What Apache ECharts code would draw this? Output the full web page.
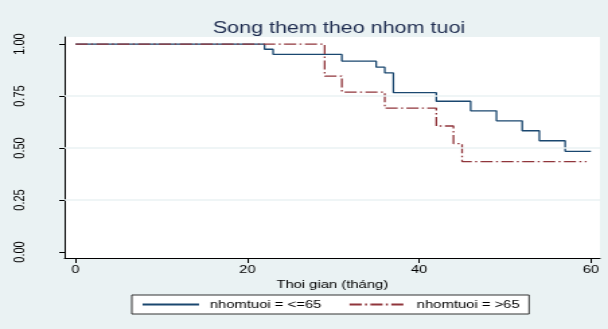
<!DOCTYPE html>
<html>
<head>
<meta charset="utf-8">
<script src="https://cdn.jsdelivr.net/npm/echarts@6/dist/echarts.min.js"></script>
<style>
  html, body { margin: 0; padding: 0; overflow: hidden; background: #eaf2f3; }
  /* the reference is a stretched graph, so draw narrow and scale in x */
  #main { width: 452px; height: 329px; transform: scaleX(1.34513); transform-origin: 0 0; }
</style>
</head>
<body>
<div id="main"></div>
<script>
// thoi gian (thang) va ty le song them
const timeLow = [0, 22, 23, 31, 35, 36, 37, 42, 46, 49, 52, 54, 57, 60];
const survLow = [1, 0.975, 0.95, 0.918, 0.889, 0.861, 0.766, 0.725, 0.679, 0.631, 0.583, 0.535, 0.484, 0.484];
const timeHigh = [0, 29, 31, 36, 42, 44, 45, 59.5];
const survHigh = [1, 0.846, 0.769, 0.692, 0.606, 0.521, 0.435, 0.435];
const xTicks = [0, 20, 40, 60];
const yTicks = [0, 0.25, 0.5, 0.75, 1];
const yGrid = [0.25, 0.5, 0.75];
const seriesNames = ["nhomtuoi = <=65", "nhomtuoi = >65"];

const font = "Liberation Sans";

const chart = echarts.init(document.getElementById("main"));
chart.setOption({
  backgroundColor: "#eaf2f3",
  animation: false,
  textStyle: { fontFamily: font },
  title: {
    text: "Song them theo nhom tuoi",
    left: 247,
    textAlign: "center",
    top: 16,
    textStyle: { fontFamily: font, fontSize: 16, fontWeight: "normal", color: "#1f2d50" },
  },
  grid: {
    left: 48,
    right: 6,
    top: 37,
    bottom: 71,
    show: true,
    backgroundColor: "#ffffff",
    borderWidth: 0,
  },
  legend: {
    data: seriesNames,
    left: 98,
    top: 295,
    padding: [4, 7],
    itemGap: 20,
    itemWidth: 42,
    itemHeight: 10,
    backgroundColor: "#ffffff",
    borderColor: "#333333",
    borderWidth: 1,
    borderRadius: 0,
    // an dau cham tren bieu tuong
    itemStyle: { opacity: 0 },
    textStyle: { fontFamily: font, fontSize: 11, color: "#000", padding: [0, 0, 0, 3] },
  },
  xAxis: {
    type: "value",
    min: -1.28,
    max: 61.05,
    name: "Thoi gian (tháng)",
    nameLocation: "middle",
    nameGap: 17,
    nameTextStyle: { fontFamily: font, fontSize: 11, color: "#000" },
    axisLine: { show: true, onZero: false, lineStyle: { color: "#000", width: 1 } },
    axisTick: { show: true, length: 5, customValues: xTicks, lineStyle: { color: "#000" } },
    axisLabel: { customValues: xTicks, margin: 6, fontFamily: font, fontSize: 11, color: "#000" },
    splitLine: { show: false },
  },
  yAxis: {
    type: "value",
    min: -0.029,
    max: 1.034,
    axisLine: { show: true, onZero: false, lineStyle: { color: "#000", width: 1 } },
    axisTick: { show: true, length: 4, customValues: yTicks, lineStyle: { color: "#000" } },
    axisLabel: {
      customValues: yTicks,
      rotate: 90,
      margin: 28,
      fontFamily: font,
      fontSize: 11,
      color: "#000",
      formatter: (v) => v.toFixed(2),
    },
    splitLine: { show: false },
  },
  series: [
    {
      // duong luoi ngang
      name: "grid",
      type: "line",
      data: [],
      z: 1,
      silent: true,
      markLine: {
        silent: true,
        symbol: "none",
        label: { show: false },
        lineStyle: { color: "#eaf2f3", width: 1.5, type: "solid" },
        data: yGrid.map((v) => ({ yAxis: v })),
      },
    },
    {
      name: seriesNames[0],
      type: "line",
      step: "end",
      symbol: "none",
      z: 3,
      data: timeLow.map((t, i) => [t, survLow[i]]),
      lineStyle: { color: "#1a476f", width: 1.3 },
      itemStyle: { color: "#1a476f" },
    },
    {
      name: seriesNames[1],
      type: "line",
      step: "end",
      symbol: "none",
      z: 4,
      data: timeHigh.map((t, i) => [t, survHigh[i]]),
      lineStyle: { color: "#90353b", width: 1.3, type: [9, 2.5, 1.5, 2.5] },
      itemStyle: { color: "#90353b" },
    },
  ],
});
</script>
</body>
</html>
